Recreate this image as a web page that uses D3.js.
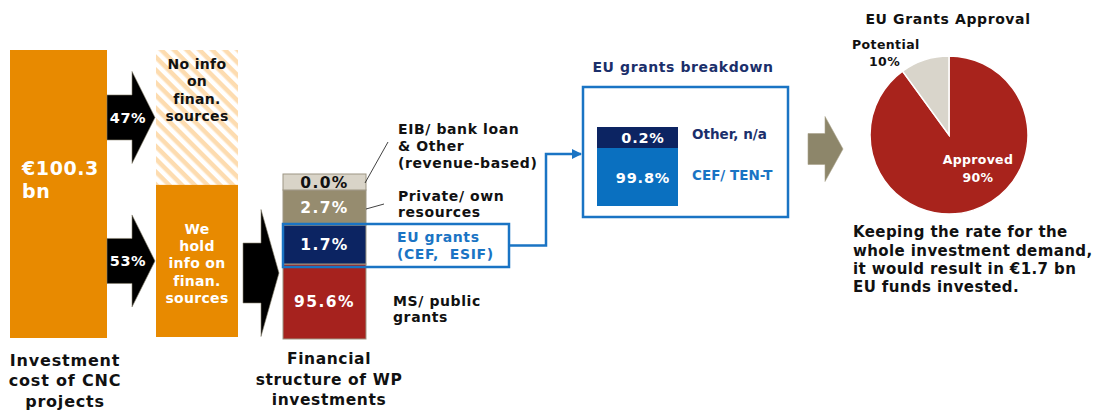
<!DOCTYPE html>
<html>
<head>
<meta charset="utf-8">
<script src="https://cdn.jsdelivr.net/npm/d3@7"></script>
<style>
  body { margin: 0; background: #fff; }
  svg { display: block; font-family: "DejaVu Sans", Verdana, sans-serif; font-weight: bold; }
  text { white-space: pre; }
</style>
</head>
<body>
<div id="chart"></div>
<script>
// ---- data ----
const investTotal = ["€100.3", "bn"]
const investTitle = ["Investment", "cost of CNC", "projects"]

const infoKeys = ["noInfo", "info"]
const infoLabels = [["No info", "on", "finan.", "sources"], ["We", "hold", "info on", "finan.", "sources"]]
const infoPct = [47, 53]

// bottom to top
const finKeys = ["ms", "eu", "private", "eib"]
const finLabels = [["MS/ public", "grants"], ["EU grants", "(CEF,  ESIF)"], ["Private/ own", "resources"], ["EIB/ bank loan", "& Other", "(revenue-based)"]]
const finValues = [95.6, 1.7, 2.7, 0.0]
const finTitle = ["Financial", "structure of WP", "investments"]

const euKeys = ["cef", "other"]
const euLabels = ["CEF/ TEN-T", "Other, n/a"]
const euValues = [99.8, 0.2]
const euTitle = "EU grants breakdown"

const approvalLabels = ["Approved", "Potential"]
const approvalValues = [90, 10]
const approvalTitle = "EU Grants Approval"
const approvalNote = ["Keeping the rate for the", "whole investment demand,", "it would result in €1.7 bn", "EU funds invested."]

// ---- layout (not data) ----
const width = 1096, height = 410
const orange = "#e88a00"
const finColors = ["#a6221e", "#0c2462", "#968c6f", "#d9d4c8"]
const finText = ["#fff", "#fff", "#fff", "#111"]
const finUnits = [75, 39, 35, 16]   // drawn heights are not to scale in the original
const euColors = ["#0a70c0", "#0c2462"]
const euUnits = [58, 21]
const blue = "#1a74c4"

let svg = d3.select("#chart").append("svg")
  .attr("width", width)
  .attr("height", height)

let defs = svg.append("defs")
let hatch = defs.append("pattern")
  .attr("id", "hatch")
  .attr("patternUnits", "userSpaceOnUse")
  .attr("width", 9)
  .attr("height", 9)
  .attr("patternTransform", "rotate(45)")
hatch.append("rect").attr("width", 9).attr("height", 9).attr("fill", "#fff")
hatch.append("rect").attr("width", 9).attr("height", 4.5).attr("fill", "#fddcb0")

defs.append("marker")
  .attr("id", "arrowBlue")
  .attr("viewBox", "0 0 10 10")
  .attr("refX", 9).attr("refY", 5)
  .attr("markerWidth", 4).attr("markerHeight", 4)
  .attr("markerUnits", "strokeWidth")
  .attr("orient", "auto")
  .append("path").attr("d", "M0,0L10,5L0,10Z").attr("fill", blue)

// block arrow helper: body from x0 to xh, head to x1, centred on cy
function blockArrow(x0, xh, x1, cy, bodyH, headH) {
  return `M${x0},${cy - bodyH / 2}H${xh}V${cy - headH / 2}L${x1},${cy}L${xh},${cy + headH / 2}V${cy + bodyH / 2}H${x0}Z`
}

function multiline(g, lines, x, y, lh, anchor) {
  let t = g.append("text").attr("text-anchor", anchor || "start")
  lines.forEach((l, i) => {
    t.append("tspan").attr("x", x).attr("y", y + i * lh).attr("dy", "0.35em").text(l)
  })
  return t
}

// ================= investment column =================
svg.append("rect")
  .attr("x", 10).attr("y", 50).attr("width", 97).attr("height", 288)
  .attr("fill", orange)

multiline(svg, investTotal, 22, 168, 23)
  .attr("fill", "#fff").style("font-size", "19px").style("letter-spacing", "0.6px")

multiline(svg, investTitle, 65, 360, 20.5, "middle")
  .attr("fill", "#111").style("font-size", "16px").style("letter-spacing", "0.8px")

// split into info / no info
let yInfo = d3.scaleLinear().domain([0, d3.sum(infoPct)]).range([50, 337])
let infoStack = d3.stack().keys(infoKeys)([Object.fromEntries(infoKeys.map((k, i) => [k, infoPct[i]]))])
let infoRows = infoKeys.map((k, i) => {
  let s = infoStack[i][0]
  return { key: k, pct: infoPct[i], labels: infoLabels[i], y0: yInfo(s[0]), y1: yInfo(s[1]) }
})

svg.selectAll(".info")
  .data(infoRows)
  .enter().append("rect")
  .attr("x", 156).attr("width", 82)
  .attr("y", d => d.y0)
  .attr("height", d => d.y1 - d.y0)
  .attr("fill", (d, i) => i === 0 ? "url(#hatch)" : orange)

infoRows.forEach((d, i) => {
  let cy = (d.y0 + d.y1) / 2
  svg.append("path")
    .attr("d", blockArrow(107, 132, 155, cy, 45, 92))
    .attr("fill", "#000").attr("stroke", "#8a8470").attr("stroke-width", 0.6)
  svg.append("text")
    .attr("x", 128).attr("y", cy).attr("dy", "0.35em")
    .attr("text-anchor", "middle").attr("fill", "#fff")
    .style("font-size", "14.5px").style("letter-spacing", "0.6px")
    .text(d.pct + "%")
  if (i === 0) {
    multiline(svg, d.labels, 197, d.y0 + 14, 17.5, "middle").attr("fill", "#111")
      .style("font-size", "14px").style("letter-spacing", "0.3px")
  } else {
    multiline(svg, d.labels, 197, cy - 32, 17.3, "middle").attr("fill", "#fff")
      .style("font-size", "14px").style("letter-spacing", "0.3px")
  }
})

// big arrow into the financial structure
svg.append("path")
  .attr("d", blockArrow(243, 261, 279, 273, 60, 127))
  .attr("fill", "#000").attr("stroke", "#8a8470").attr("stroke-width", 0.6)

// ================= financial structure =================
let cumUnits = d3.cumsum(finUnits)
let yFin = d3.scaleLinear().domain([0, cumUnits[cumUnits.length - 1]]).range([339, 174])
let finRows = finKeys.map((k, i) => ({
  key: k, value: finValues[i], labels: finLabels[i],
  y0: yFin(cumUnits[i] - finUnits[i]), y1: yFin(cumUnits[i]),
  color: finColors[i], text: finText[i]
}))

let fin = svg.append("g")
fin.selectAll("rect")
  .data(finRows)
  .enter().append("rect")
  .attr("x", 283).attr("width", 83)
  .attr("y", d => d.y1)
  .attr("height", d => d.y0 - d.y1)
  .attr("fill", d => d.color)
  .attr("stroke", "#9d9683").attr("stroke-width", 1)

fin.selectAll(".val")
  .data(finRows)
  .enter().append("text")
  .attr("x", 324.5)
  .attr("y", d => (d.y0 + d.y1) / 2)
  .attr("dy", "0.36em")
  .attr("text-anchor", "middle")
  .attr("fill", d => d.text)
  .style("font-size", "15.5px")
  .style("letter-spacing", "1.4px")
  .text(d => d3.format(".1f")(d.value) + "%")

// side labels
const sideFont = "14px", sideSpace = "0.6px"
multiline(svg, finRows[0].labels, 393, 301, 16.5).attr("fill", "#111").style("font-size", sideFont).style("letter-spacing", sideSpace)
multiline(svg, finRows[1].labels, 397, 237, 17.5).attr("fill", blue).style("font-size", sideFont).style("letter-spacing", sideSpace)
multiline(svg, finRows[2].labels, 398, 196, 16.5).attr("fill", "#111").style("font-size", sideFont).style("letter-spacing", sideSpace)
multiline(svg, finRows[3].labels, 398, 129, 17).attr("fill", "#111").style("font-size", sideFont).style("letter-spacing", sideSpace)

// leader lines
svg.append("line").attr("x1", 365).attr("y1", 183).attr("x2", 388).attr("y2", 142)
  .attr("stroke", "#111").attr("stroke-width", 0.8)
svg.append("line").attr("x1", 366).attr("y1", 209).attr("x2", 384).attr("y2", 204)
  .attr("stroke", "#111").attr("stroke-width", 0.8)

// highlight box round EU grants
svg.append("rect")
  .attr("x", 283).attr("y", finRows[1].y1 - 1)
  .attr("width", 226).attr("height", finRows[1].y0 - finRows[1].y1 + 4)
  .attr("fill", "none").attr("stroke", blue).attr("stroke-width", 2.5)

multiline(svg, finTitle, 329, 359, 20.5, "middle").attr("fill", "#111")
  .style("font-size", "15.5px").style("letter-spacing", "0.6px")

// connector to breakdown
svg.append("path")
  .attr("d", `M509,${(finRows[1].y0 + finRows[1].y1) / 2 + 1}H546V154H581`)
  .attr("fill", "none").attr("stroke", blue).attr("stroke-width", 2.5)
  .attr("marker-end", "url(#arrowBlue)")

// ================= EU grants breakdown =================
svg.append("text")
  .attr("x", 683).attr("y", 67).attr("dy", "0.35em")
  .attr("text-anchor", "middle").attr("fill", "#1b2f6b")
  .style("font-size", "14px").style("letter-spacing", "0.6px")
  .text(euTitle)

svg.append("rect")
  .attr("x", 583).attr("y", 87).attr("width", 205).attr("height", 130)
  .attr("fill", "none").attr("stroke", blue).attr("stroke-width", 2.5)

let euCum = d3.cumsum(euUnits)
let yEu = d3.scaleLinear().domain([0, euCum[euCum.length - 1]]).range([206, 127])
let euRows = euKeys.map((k, i) => ({
  key: k, value: euValues[i], label: euLabels[i],
  y0: yEu(euCum[i] - euUnits[i]), y1: yEu(euCum[i]), color: euColors[i]
}))

svg.selectAll(".eu")
  .data(euRows)
  .enter().append("rect")
  .attr("x", 597).attr("width", 81)
  .attr("y", d => d.y1)
  .attr("height", d => d.y0 - d.y1)
  .attr("fill", d => d.color)

svg.selectAll(".euVal")
  .data(euRows)
  .enter().append("text")
  .attr("x", 643)
  .attr("y", (d, i) => i === 0 ? 178 : (d.y0 + d.y1) / 2)
  .attr("dy", "0.36em")
  .attr("text-anchor", "middle").attr("fill", "#fff")
  .style("font-size", "14.5px").style("letter-spacing", "0.8px")
  .text(d => d3.format(".1f")(d.value) + "%")

svg.selectAll(".euLab")
  .data(euRows)
  .enter().append("text")
  .attr("x", 692)
  .attr("y", (d, i) => i === 0 ? 175 : 134)
  .attr("dy", "0.36em")
  .attr("fill", (d, i) => i === 0 ? blue : "#1b2f6b")
  .style("font-size", "13.5px")
  .text(d => d.label)

// tan arrow
svg.append("path")
  .attr("d", blockArrow(808, 825, 843, 149, 31, 65))
  .attr("fill", "#8d866a").attr("stroke", "#a9a38c").attr("stroke-width", 0.6)

// ================= approval pie =================
let cx = 949, cy = 135, r = 79
svg.append("text")
  .attr("x", 948).attr("y", 19).attr("dy", "0.35em")
  .attr("text-anchor", "middle").attr("fill", "#111")
  .style("font-size", "14px").style("letter-spacing", "0.6px")
  .text(approvalTitle)

let pie = d3.pie().sort(null)(approvalValues)
let arc = d3.arc().innerRadius(0).outerRadius(r)
let pieG = svg.append("g").attr("transform", `translate(${cx},${cy})`)
pieG.selectAll("path")
  .data(pie)
  .enter().append("path")
  .attr("d", arc)
  .attr("fill", (d, i) => i === 0 ? "#a8231c" : "#d9d5cb")
  .attr("stroke", "#fff").attr("stroke-width", 1.5)

multiline(svg, [approvalLabels[0], approvalValues[0] + "%"], 978, 160, 17.5, "middle")
  .attr("fill", "#fff").style("font-size", "12.5px").style("letter-spacing", "0.3px")
svg.append("text").attr("x", 852).attr("y", 45).attr("dy", "0.35em")
  .attr("fill", "#111").style("font-size", "12.5px").style("letter-spacing", "0.4px").text(approvalLabels[1])
svg.append("text").attr("x", 869).attr("y", 62).attr("dy", "0.35em")
  .attr("fill", "#111").style("font-size", "12.5px").style("letter-spacing", "0.4px").text(approvalValues[1] + "%")

multiline(svg, approvalNote, 853, 232, 18.3).attr("fill", "#111")
  .style("font-size", "15px").style("letter-spacing", "0.4px")
</script>
</body>
</html>
